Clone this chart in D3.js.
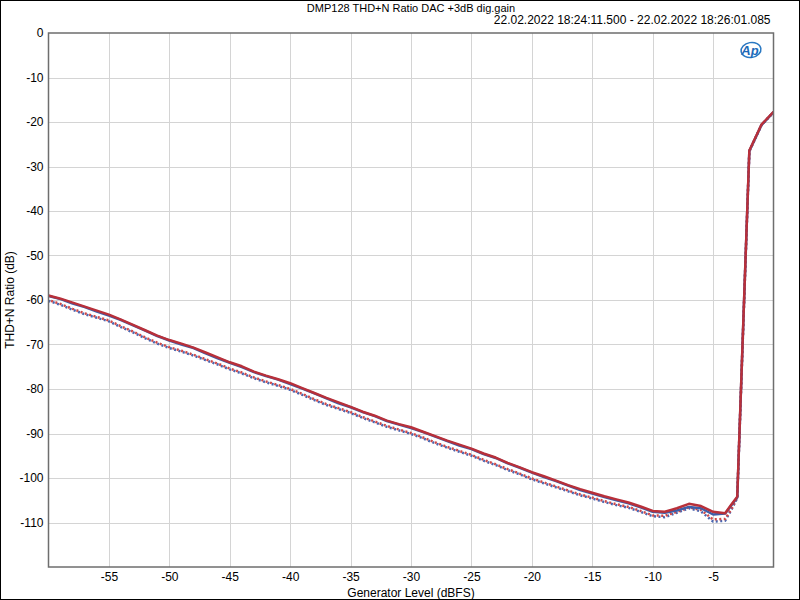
<!DOCTYPE html>
<html><head><meta charset="utf-8">
<script src="https://cdn.jsdelivr.net/npm/d3@7"></script>
<style>body{margin:0;background:#fff}svg{display:block}text{font-family:"Liberation Sans",Arial,sans-serif}</style>
</head><body>
<svg id="c" width="800" height="600"></svg>
<script>
const title = "DMP128 THD+N Ratio DAC +3dB dig.gain";
const subtitle = "22.02.2022 18:24:11.500 - 22.02.2022 18:26:01.085";
const xLabel = "Generator Level (dBFS)";
const yLabel = "THD+N Ratio (dB)";
const xTicks = [-55,-50,-45,-40,-35,-30,-25,-20,-15,-10,-5];
const yTicks = [0,-10,-20,-30,-40,-50,-60,-70,-80,-90,-100,-110];

const level = [-60,-59,-58,-57,-56,-55,-54,-53,-52,-51,-50,-49,-48,-47,-46,-45,-44,-43,-42,-41,-40,-39,-38,-37,-36,-35,-34,-33,-32,-31,-30,-29,-28,-27,-26,-25,-24,-23,-22,-21,-20,-19,-18,-17,-16,-15,-14,-13,-12,-11,-10,-9,-8,-7,-6,-5,-4,-3.5,-3,-2.5,-2,-1,0];

const solidRed = [-59.0,-59.7,-60.6,-61.5,-62.4,-63.3,-64.4,-65.6,-66.8,-68.0,-69.0,-69.8,-70.7,-71.8,-72.9,-74.0,-74.9,-76.1,-77.0,-77.8,-78.7,-79.8,-80.9,-82.0,-83.0,-84.0,-85.1,-86.0,-87.1,-87.9,-88.6,-89.6,-90.6,-91.6,-92.5,-93.4,-94.5,-95.4,-96.6,-97.6,-98.7,-99.6,-100.6,-101.6,-102.5,-103.3,-104.1,-104.8,-105.5,-106.4,-107.4,-107.6,-106.8,-105.8,-106.3,-107.6,-107.9,-106.0,-104.2,-65.0,-26.4,-20.6,-17.7];
const solidBlue = [-59.1,-59.8,-60.8,-61.6,-62.6,-63.5,-64.5,-65.7,-66.9,-68.1,-69.1,-70.0,-70.8,-72.0,-73.1,-74.1,-75.1,-76.2,-77.1,-77.9,-78.9,-79.9,-81.0,-82.1,-83.2,-84.1,-85.2,-86.1,-87.2,-88.0,-88.8,-89.7,-90.7,-91.7,-92.7,-93.5,-94.6,-95.5,-96.7,-97.7,-98.8,-99.8,-100.7,-101.7,-102.7,-103.5,-104.3,-105.0,-105.7,-106.6,-107.6,-107.8,-107.3,-106.5,-106.8,-108.2,-108.0,-106.2,-104.4,-65.2,-26.5,-20.7,-17.8];
const dottedRed = [-60.0,-60.9,-62.0,-63.0,-63.8,-64.6,-65.9,-67.1,-68.4,-69.6,-70.6,-71.4,-72.3,-73.3,-74.3,-75.4,-76.3,-77.4,-78.3,-79.1,-80.0,-81.1,-82.3,-83.4,-84.3,-85.2,-86.3,-87.3,-88.3,-89.1,-89.9,-90.9,-92.0,-93.0,-93.9,-94.8,-95.9,-96.9,-98.0,-99.0,-100.1,-101.0,-101.9,-102.8,-103.7,-104.4,-105.2,-105.9,-106.5,-107.4,-108.4,-108.5,-107.6,-106.6,-107.2,-109.3,-109.2,-107.0,-104.3,-65.5,-26.6,-20.7,-17.8];
const dottedBlue = [-60.2,-61.1,-62.2,-63.2,-64.0,-64.8,-66.1,-67.3,-68.6,-69.8,-70.8,-71.6,-72.5,-73.5,-74.5,-75.6,-76.5,-77.6,-78.5,-79.3,-80.2,-81.3,-82.5,-83.6,-84.5,-85.4,-86.5,-87.5,-88.5,-89.3,-90.1,-91.1,-92.2,-93.2,-94.1,-95.0,-96.1,-97.1,-98.2,-99.2,-100.3,-101.2,-102.1,-103.0,-103.9,-104.6,-105.4,-106.1,-106.7,-107.6,-108.6,-108.8,-107.8,-106.8,-107.5,-109.8,-109.6,-107.2,-104.5,-65.6,-26.6,-20.7,-17.8];

const W = 800, H = 600;
const m = {l: 48.5, r: 773.5, t: 33, b: 567};
const svg = d3.select("#c");
svg.append("rect").attr("x",0.5).attr("y",0.5).attr("width",W-1).attr("height",H-1).attr("fill","#fff").attr("stroke","#000").attr("stroke-width",1);

const x = d3.scaleLinear().domain([-60,0]).range([m.l, m.r]);
const y = d3.scaleLinear().domain([-120,0]).range([m.b, m.t]);

const g = svg.append("g");
g.selectAll(".vg").data(xTicks).join("line")
  .attr("x1",d=>Math.round(x(d))+0.5).attr("x2",d=>Math.round(x(d))+0.5)
  .attr("y1",m.t).attr("y2",m.b).attr("stroke","#d4d4d4").attr("stroke-width",1);
g.selectAll(".hg").data(yTicks.filter(d=>d!==0)).join("line")
  .attr("y1",d=>Math.round(y(d))+0.5).attr("y2",d=>Math.round(y(d))+0.5)
  .attr("x1",m.l).attr("x2",m.r).attr("stroke","#d4d4d4").attr("stroke-width",1);

const fmt = d => String(d);
const xAxis = svg.append("g").attr("transform",`translate(0,${m.b})`)
  .call(d3.axisBottom(x).tickValues(xTicks).tickSize(0).tickPadding(5).tickFormat(fmt));
xAxis.select(".domain").remove();
xAxis.selectAll("text").attr("font-size",12).attr("fill","#000").attr("font-family","Liberation Sans, Arial, sans-serif");

const yAxis = svg.append("g").attr("transform",`translate(${m.l},0)`)
  .call(d3.axisLeft(y).tickValues(yTicks).tickSize(0).tickPadding(5).tickFormat(fmt));
yAxis.select(".domain").remove();
yAxis.selectAll("text").attr("font-size",12).attr("fill","#000").attr("font-family","Liberation Sans, Arial, sans-serif");

svg.append("clipPath").attr("id","clip").append("rect")
  .attr("x",m.l).attr("y",m.t).attr("width",m.r-m.l).attr("height",m.b-m.t);

const line = d3.line().x((d,i)=>x(level[i])).y(d=>y(d)).curve(d3.curveLinear);
const lg = svg.append("g").attr("clip-path","url(#clip)");
const series = [
  {v: dottedBlue, c: "#4a66b0", w: 2.5, dash: "2,2.5", off: 0},
  {v: dottedRed, c: "#d04848", w: 2.5, dash: "2,2.5", off: 1.8},
  {v: solidBlue, c: "#3e5ea8", w: 2.5},
  {v: solidRed, c: "#b8303a", w: 2.5}
];
series.forEach(s=>{
  const p = lg.append("path").datum(s.v).attr("d",line).attr("fill","none")
    .attr("stroke",s.c).attr("stroke-width",s.w).attr("stroke-linejoin","round");
  if (s.dash) p.attr("stroke-dasharray",s.dash).attr("stroke-dashoffset",s.off||0);
});

svg.append("rect").attr("x",m.l).attr("y",m.t).attr("width",m.r-m.l).attr("height",m.b-m.t)
  .attr("fill","none").attr("stroke","#6e6e6e").attr("stroke-width",1.5);

const cx = (m.l+m.r)/2;
svg.append("text").attr("x",cx).attr("y",12).attr("text-anchor","middle").attr("font-size",11).attr("fill","#000").text(title);
svg.append("text").attr("x",m.r-3).attr("y",24).attr("text-anchor","end").attr("font-size",12).attr("fill","#000").text(subtitle);
svg.append("text").attr("x",cx).attr("y",597).attr("text-anchor","middle").attr("font-size",12).attr("fill","#000").text(xLabel);
svg.append("text").attr("transform",`translate(14,${(m.t+m.b)/2}) rotate(-90)`).attr("text-anchor","middle").attr("font-size",12).attr("fill","#000").text(yLabel);

const logo = svg.append("g").attr("transform","translate(751,50)");
logo.append("ellipse").attr("rx",10).attr("ry",7.5).attr("fill","none").attr("stroke","#2a78c2").attr("stroke-width",1.5).attr("transform","rotate(-10)");
logo.append("text").attr("x",-1).attr("y",4.5).attr("text-anchor","middle").attr("font-size",13).attr("font-style","italic").attr("font-weight","bold").attr("fill","#1d6ab8").text("Ap");
</script>
</body></html>
